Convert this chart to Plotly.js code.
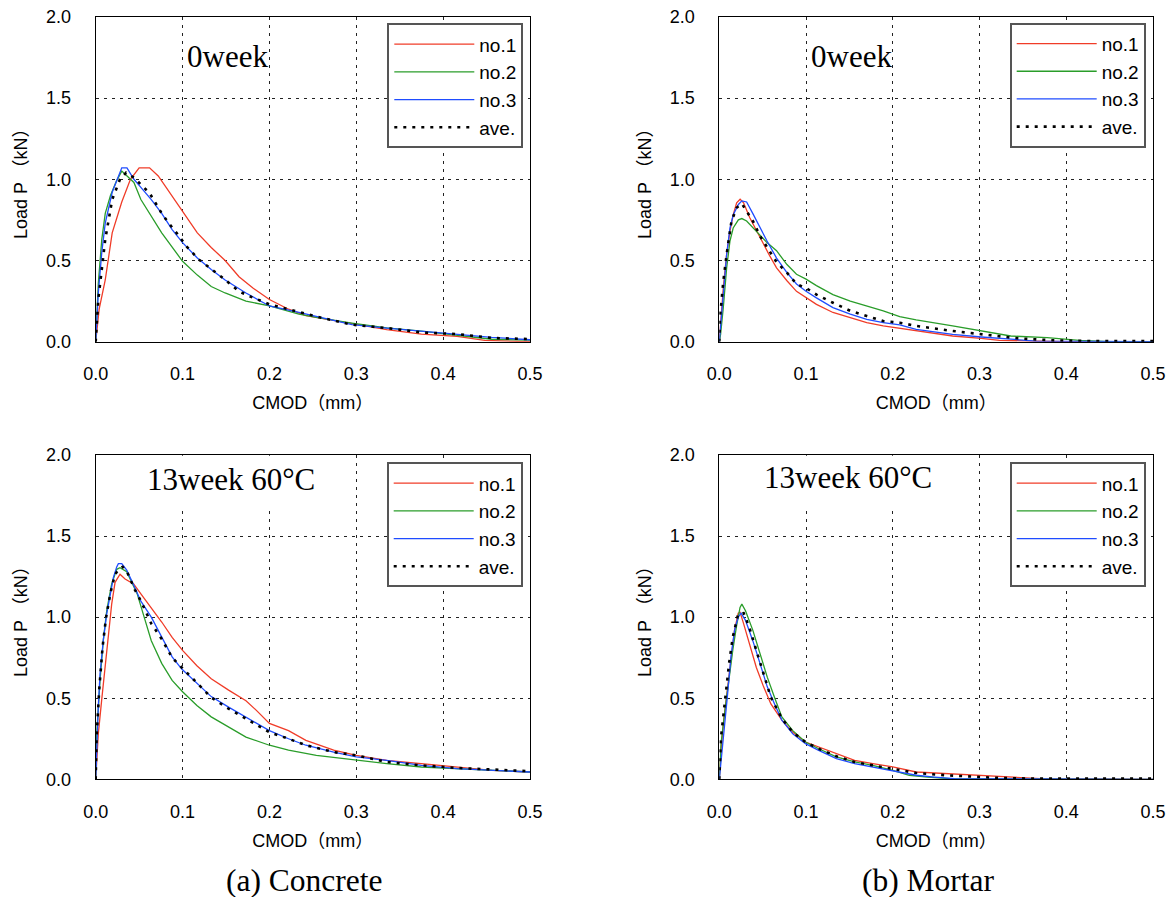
<!DOCTYPE html>
<html>
<head>
<meta charset="utf-8">
<script src="https://cdn.plot.ly/plotly-3.0.1.min.js"></script>
<style>html,body{margin:0;padding:0;background:#fff;}#chart{width:1170px;height:897px;}</style>
</head>
<body>
<div id="chart"></div>
<script>
// ---------- DATA ----------
const seriesNames = ['no.1', 'no.2', 'no.3', 'ave.'];
const panelLabels = ['0week', '0week', '13week 60°C', '13week 60°C'];
const captions = ['(a) Concrete', '(b) Mortar'];
const xTitle = 'CMOD（mm）';
const yTitle = 'Load P （kN）';

// (a) Concrete, 0week
const c0_x1 = [0, 0.004, 0.011, 0.019, 0.030, 0.040, 0.050, 0.062, 0.072, 0.085, 0.100, 0.117, 0.133, 0.149, 0.165, 0.181, 0.200, 0.222, 0.242, 0.274, 0.299, 0.335, 0.375, 0.416, 0.448, 0.500];
const c0_y1 = [0, 0.20, 0.38, 0.67, 0.86, 1.00, 1.07, 1.07, 1.02, 0.92, 0.80, 0.67, 0.58, 0.50, 0.40, 0.33, 0.26, 0.20, 0.16, 0.13, 0.105, 0.074, 0.047, 0.033, 0.008, 0.0];
const c0_x2 = [0, 0.003, 0.007, 0.011, 0.017, 0.024, 0.030, 0.044, 0.052, 0.064, 0.076, 0.100, 0.117, 0.133, 0.149, 0.173, 0.200, 0.234, 0.254, 0.295, 0.335, 0.375, 0.416, 0.456, 0.500];
const c0_y2 = [0, 0.36, 0.63, 0.79, 0.90, 0.99, 1.05, 0.98, 0.875, 0.77, 0.67, 0.495, 0.41, 0.34, 0.30, 0.25, 0.22, 0.17, 0.15, 0.115, 0.085, 0.065, 0.04, 0.015, 0.01];
const c0_x3 = [0, 0.003, 0.007, 0.011, 0.019, 0.026, 0.030, 0.036, 0.044, 0.052, 0.064, 0.076, 0.088, 0.100, 0.117, 0.133, 0.149, 0.173, 0.200, 0.234, 0.295, 0.335, 0.375, 0.416, 0.456, 0.500];
const c0_y3 = [0, 0.30, 0.55, 0.73, 0.92, 1.02, 1.07, 1.07, 1.00, 0.95, 0.875, 0.79, 0.69, 0.61, 0.515, 0.445, 0.38, 0.30, 0.22, 0.18, 0.105, 0.084, 0.064, 0.043, 0.027, 0.012];
const c0_xa = [0, 0.003, 0.011, 0.019, 0.028, 0.035, 0.044, 0.062, 0.076, 0.084, 0.096, 0.104, 0.119, 0.129, 0.147, 0.165, 0.177, 0.200, 0.222, 0.254, 0.295, 0.335, 0.375, 0.416, 0.456, 0.500];
const c0_ya = [0, 0.26, 0.63, 0.875, 1.00, 1.04, 1.01, 0.915, 0.79, 0.73, 0.65, 0.59, 0.505, 0.465, 0.39, 0.31, 0.28, 0.23, 0.20, 0.155, 0.105, 0.084, 0.057, 0.047, 0.023, 0.016];

// (b) Mortar, 0week
const m0_x1 = [0, 0.0015, 0.0046, 0.0085, 0.0123, 0.016, 0.020, 0.024, 0.028, 0.035, 0.043, 0.051, 0.058, 0.066, 0.078, 0.089, 0.100, 0.112, 0.131, 0.151, 0.170, 0.189, 0.208, 0.227, 0.269, 0.302, 0.323, 0.365, 0.40, 0.5];
const m0_y1 = [0, 0.13, 0.33, 0.54, 0.68, 0.78, 0.855, 0.877, 0.855, 0.765, 0.68, 0.60, 0.53, 0.455, 0.375, 0.31, 0.27, 0.23, 0.18, 0.148, 0.117, 0.097, 0.082, 0.066, 0.035, 0.021, 0.008, 0.004, 0.0, 0.0];
const m0_x2 = [0, 0.0015, 0.0046, 0.0085, 0.0123, 0.016, 0.022, 0.026, 0.0315, 0.039, 0.047, 0.055, 0.066, 0.078, 0.089, 0.100, 0.112, 0.131, 0.151, 0.170, 0.189, 0.208, 0.227, 0.269, 0.302, 0.336, 0.378, 0.415, 0.45, 0.5];
const m0_y2 = [0, 0.045, 0.21, 0.455, 0.62, 0.70, 0.75, 0.758, 0.743, 0.70, 0.66, 0.61, 0.56, 0.475, 0.415, 0.385, 0.345, 0.29, 0.25, 0.22, 0.19, 0.155, 0.135, 0.097, 0.066, 0.035, 0.025, 0.008, 0.0, 0.0];
const m0_x3 = [0, 0.0015, 0.0046, 0.0085, 0.0123, 0.016, 0.022, 0.026, 0.0315, 0.039, 0.047, 0.055, 0.066, 0.078, 0.089, 0.100, 0.112, 0.131, 0.151, 0.170, 0.189, 0.208, 0.227, 0.269, 0.302, 0.336, 0.365, 0.5];
const m0_y3 = [0, 0.086, 0.29, 0.54, 0.70, 0.78, 0.845, 0.867, 0.86, 0.785, 0.70, 0.62, 0.515, 0.425, 0.355, 0.31, 0.27, 0.21, 0.17, 0.138, 0.117, 0.103, 0.076, 0.045, 0.029, 0.014, 0.004, 0.0];
const m0_xa = [0, 0.0008, 0.0046, 0.0085, 0.014, 0.020, 0.026, 0.0315, 0.039, 0.047, 0.055, 0.066, 0.078, 0.089, 0.100, 0.112, 0.131, 0.151, 0.170, 0.189, 0.208, 0.227, 0.269, 0.302, 0.344, 0.386, 0.428, 0.5];
const m0_ya = [0, 0.15, 0.37, 0.54, 0.74, 0.825, 0.85, 0.805, 0.74, 0.65, 0.58, 0.49, 0.425, 0.355, 0.33, 0.29, 0.24, 0.19, 0.158, 0.127, 0.117, 0.097, 0.066, 0.045, 0.021, 0.008, 0.004, 0.004];

// (a) Concrete, 13week 60°C
const c13_x1 = [0, 0.003, 0.0069, 0.0108, 0.0146, 0.0184, 0.0223, 0.028, 0.0338, 0.0437, 0.0518, 0.064, 0.076, 0.088, 0.100, 0.1165, 0.133, 0.153, 0.173, 0.185, 0.200, 0.222, 0.242, 0.274, 0.300, 0.335, 0.375, 0.416, 0.456, 0.500];
const c13_y1 = [0, 0.28, 0.49, 0.69, 0.90, 1.08, 1.215, 1.265, 1.235, 1.205, 1.145, 1.06, 0.97, 0.875, 0.795, 0.70, 0.62, 0.55, 0.485, 0.425, 0.345, 0.30, 0.24, 0.18, 0.148, 0.117, 0.097, 0.076, 0.055, 0.045];
const c13_x2 = [0, 0.0012, 0.005, 0.0088, 0.0127, 0.0184, 0.0242, 0.028, 0.0357, 0.0477, 0.0558, 0.064, 0.076, 0.088, 0.100, 0.1165, 0.133, 0.153, 0.173, 0.200, 0.222, 0.254, 0.300, 0.335, 0.375, 0.416, 0.456, 0.500];
const c13_y2 = [0, 0.28, 0.61, 0.86, 1.04, 1.205, 1.295, 1.305, 1.28, 1.145, 1.00, 0.855, 0.715, 0.61, 0.54, 0.455, 0.385, 0.32, 0.26, 0.21, 0.18, 0.148, 0.117, 0.097, 0.076, 0.066, 0.055, 0.045];
const c13_x3 = [0, 0.0012, 0.003, 0.005, 0.0088, 0.0127, 0.0165, 0.0204, 0.0242, 0.0261, 0.030, 0.0357, 0.0457, 0.0518, 0.064, 0.076, 0.088, 0.0991, 0.1165, 0.133, 0.153, 0.173, 0.200, 0.222, 0.242, 0.274, 0.300, 0.335, 0.375, 0.416, 0.456, 0.500];
const c13_y3 = [0, 0.24, 0.45, 0.65, 0.86, 1.02, 1.145, 1.245, 1.31, 1.33, 1.33, 1.29, 1.175, 1.10, 1.00, 0.875, 0.755, 0.68, 0.59, 0.51, 0.445, 0.385, 0.30, 0.25, 0.21, 0.168, 0.138, 0.117, 0.086, 0.066, 0.055, 0.045];
const c13_xa = [0, 0.001, 0.004, 0.008, 0.012, 0.017, 0.022, 0.027, 0.031, 0.036, 0.045, 0.052, 0.064, 0.076, 0.088, 0.0991, 0.1165, 0.133, 0.153, 0.173, 0.200, 0.222, 0.242, 0.274, 0.300, 0.335, 0.375, 0.416, 0.456, 0.500];
const c13_ya = [0, 0.25, 0.55, 0.82, 1.00, 1.15, 1.26, 1.30, 1.31, 1.28, 1.17, 1.10, 0.96, 0.865, 0.75, 0.69, 0.59, 0.505, 0.435, 0.375, 0.29, 0.25, 0.21, 0.168, 0.148, 0.107, 0.086, 0.07, 0.06, 0.05];

// (b) Mortar, 13week 60°C
const m13_x1 = [0, 0.002, 0.005, 0.0092, 0.0134, 0.0176, 0.0218, 0.024, 0.028, 0.0344, 0.0427, 0.0511, 0.0595, 0.0721, 0.0847, 0.0993, 0.114, 0.135, 0.156, 0.177, 0.200, 0.227, 0.261, 0.300, 0.324, 0.370, 0.5];
const m13_y1 = [0, 0.18, 0.36, 0.55, 0.75, 0.92, 1.025, 1.03, 0.96, 0.835, 0.69, 0.57, 0.465, 0.365, 0.29, 0.23, 0.20, 0.158, 0.117, 0.097, 0.076, 0.045, 0.035, 0.025, 0.014, 0.004, 0.0];
const m13_x2 = [0, 0.002, 0.007, 0.0113, 0.0155, 0.0197, 0.0239, 0.026, 0.0302, 0.0386, 0.0469, 0.0553, 0.0637, 0.0721, 0.0847, 0.0993, 0.114, 0.135, 0.156, 0.177, 0.200, 0.219, 0.240, 0.265, 0.5];
const m13_y2 = [0, 0.22, 0.445, 0.63, 0.795, 0.94, 1.06, 1.08, 1.04, 0.92, 0.775, 0.63, 0.505, 0.385, 0.30, 0.23, 0.19, 0.138, 0.107, 0.086, 0.055, 0.025, 0.014, 0.004, 0.0];
const m13_x3 = [0, 0.005, 0.0092, 0.0134, 0.0176, 0.0218, 0.0251, 0.0302, 0.0386, 0.0469, 0.0553, 0.0637, 0.0721, 0.0847, 0.0993, 0.114, 0.135, 0.156, 0.177, 0.200, 0.227, 0.248, 0.271, 0.5];
const m13_y3 = [0, 0.26, 0.505, 0.755, 0.92, 1.00, 1.025, 0.98, 0.855, 0.715, 0.57, 0.465, 0.365, 0.28, 0.22, 0.18, 0.127, 0.097, 0.076, 0.055, 0.025, 0.014, 0.004, 0.0];
const m13_xa = [0, 0.002, 0.007, 0.0113, 0.0155, 0.0218, 0.0281, 0.0344, 0.0427, 0.0511, 0.0595, 0.0721, 0.0847, 0.0993, 0.114, 0.135, 0.156, 0.177, 0.200, 0.227, 0.261, 0.300, 0.324, 0.365, 0.5];
const m13_ya = [0, 0.26, 0.505, 0.715, 0.875, 1.02, 1.025, 0.94, 0.795, 0.65, 0.505, 0.375, 0.29, 0.23, 0.19, 0.142, 0.107, 0.086, 0.066, 0.039, 0.025, 0.014, 0.008, 0.004, 0.004];

// ---------- STYLE / LAYOUT ----------
const SANS = 'Liberation Sans, Arial, Noto Sans CJK JP, sans-serif';
const SERIF = 'Liberation Serif, Times New Roman, serif';
const lineStyles = [
  {color: '#f03c28', width: 1.3},
  {color: '#2a9d2a', width: 1.3},
  {color: '#1f4cff', width: 1.3},
  {color: '#000000', width: 2.6, dash: '3px,6px'}
];

const panels = [
  {xs: [c0_x1, c0_x2, c0_x3, c0_xa], ys: [c0_y1, c0_y2, c0_y3, c0_ya], xa: 'x', ya: 'y', legend: 'legend'},
  {xs: [m0_x1, m0_x2, m0_x3, m0_xa], ys: [m0_y1, m0_y2, m0_y3, m0_ya], xa: 'x2', ya: 'y2', legend: 'legend2'},
  {xs: [c13_x1, c13_x2, c13_x3, c13_xa], ys: [c13_y1, c13_y2, c13_y3, c13_ya], xa: 'x3', ya: 'y3', legend: 'legend3'},
  {xs: [m13_x1, m13_x2, m13_x3, m13_xa], ys: [m13_y1, m13_y2, m13_y3, m13_ya], xa: 'x4', ya: 'y4', legend: 'legend4'}
];

const traces = [];
panels.forEach((p, pi) => {
  for (let s = 0; s < 4; s++) {
    traces.push({
      type: 'scatter', mode: 'lines',
      x: p.xs[s], y: p.ys[s],
      xaxis: p.xa, yaxis: p.ya,
      name: seriesNames[s],
      legend: p.legend,
      legendgroup: 'p' + pi + 's' + s,
      line: lineStyles[s],
      hoverinfo: 'skip'
    });
  }
});

const xDomL = [95.7 / 1170, 530 / 1170];
const xDomR = [719.3 / 1170, 1153 / 1170];
const yDomT = [(897 - 341.7) / 897, (897 - 16.8) / 897];
const yDomB = [(897 - 779.3) / 897, (897 - 455) / 897];

function xAxis(domain, anchor) {
  return {
    domain: domain, anchor: anchor, range: [0, 0.5], tick0: 0, dtick: 0.1, tickformat: '.1f',
    showgrid: true, gridcolor: '#222', gridwidth: 1, griddash: '3px,5px', zeroline: false,
    showline: true, mirror: true, linecolor: '#000', linewidth: 1,
    ticks: 'outside', ticklen: 16, tickcolor: 'rgba(0,0,0,0)',
    tickfont: {family: SANS, size: 18, color: '#000'},
    title: {text: xTitle, font: {family: SANS, size: 18, color: '#000'}, standoff: 13},
    fixedrange: true
  };
}
function yAxis(domain, anchor) {
  return {
    domain: domain, anchor: anchor, range: [0, 2], tick0: 0, dtick: 0.5, tickformat: '.1f',
    showgrid: true, gridcolor: '#222', gridwidth: 1, griddash: '3px,5px', zeroline: false,
    showline: true, mirror: true, linecolor: '#000', linewidth: 1,
    ticks: 'outside', ticklen: 20, tickcolor: 'rgba(0,0,0,0)',
    tickfont: {family: SANS, size: 18, color: '#000'},
    title: {text: yTitle, font: {family: SANS, size: 18, color: '#000'}, standoff: 13},
    fixedrange: true
  };
}

function legendAt(xr, yt) {
  return {
    x: xr, y: yt, xref: 'paper', yref: 'paper', xanchor: 'right', yanchor: 'top',
    bgcolor: '#ffffff', bordercolor: '#555555', borderwidth: 2,
    font: {family: SANS, size: 19, color: '#000'},
    itemwidth: 80, traceorder: 'grouped', tracegroupgap: 0,
    itemclick: false, itemdoubleclick: false
  };
}

const annFont = {family: SERIF, size: 31, color: '#000'};
const annotations = [
  {text: panelLabels[0], x: 227 / 1170, y: (897 - 57) / 897},
  {text: panelLabels[1], x: 851.7 / 1170, y: (897 - 57) / 897},
  {text: panelLabels[2], x: 230.7 / 1170, y: (897 - 479) / 897},
  {text: panelLabels[3], x: 847.6 / 1170, y: (897 - 478) / 897},
  {text: captions[0], x: 304 / 1170, y: (897 - 880) / 897, size: 31.5},
  {text: captions[1], x: 928 / 1170, y: (897 - 880) / 897, size: 31.5}
].map(a => ({
  text: a.text, x: a.x, y: a.y, xref: 'paper', yref: 'paper', xanchor: 'center', yanchor: 'middle',
  showarrow: false, font: Object.assign({}, annFont, a.size ? {size: a.size} : {})
}));

const shapes = [
  {type: 'rect', layer: 'between', xref: 'x3', yref: 'y3', x0: 0.045, x1: 0.262, y0: 1.655, y1: 1.995, fillcolor: '#fff', line: {width: 0}},
  {type: 'rect', layer: 'between', xref: 'x4', yref: 'y4', x0: 0.04, x1: 0.257, y0: 1.655, y1: 1.995, fillcolor: '#fff', line: {width: 0}}
];

const layout = {
  width: 1170, height: 897,
  margin: {l: 0, r: 0, t: 0, b: 0},
  paper_bgcolor: '#ffffff', plot_bgcolor: '#ffffff',
  font: {family: SANS, color: '#000'},
  xaxis: xAxis(xDomL, 'y'), yaxis: yAxis(yDomT, 'x'),
  xaxis2: xAxis(xDomR, 'y2'), yaxis2: yAxis(yDomT, 'x2'),
  xaxis3: xAxis(xDomL, 'y3'), yaxis3: yAxis(yDomB, 'x3'),
  xaxis4: xAxis(xDomR, 'y4'), yaxis4: yAxis(yDomB, 'x4'),
  legend: legendAt(523.3 / 1170, (897 - 23.3) / 897),
  legend2: legendAt(1145.7 / 1170, (897 - 22.7) / 897),
  legend3: legendAt(522.7 / 1170, (897 - 462.3) / 897),
  legend4: legendAt(1145.7 / 1170, (897 - 462.3) / 897),
  annotations: annotations,
  shapes: shapes,
  showlegend: true
};

Plotly.newPlot('chart', traces, layout, {displayModeBar: false, staticPlot: true});
</script>
</body>
</html>
